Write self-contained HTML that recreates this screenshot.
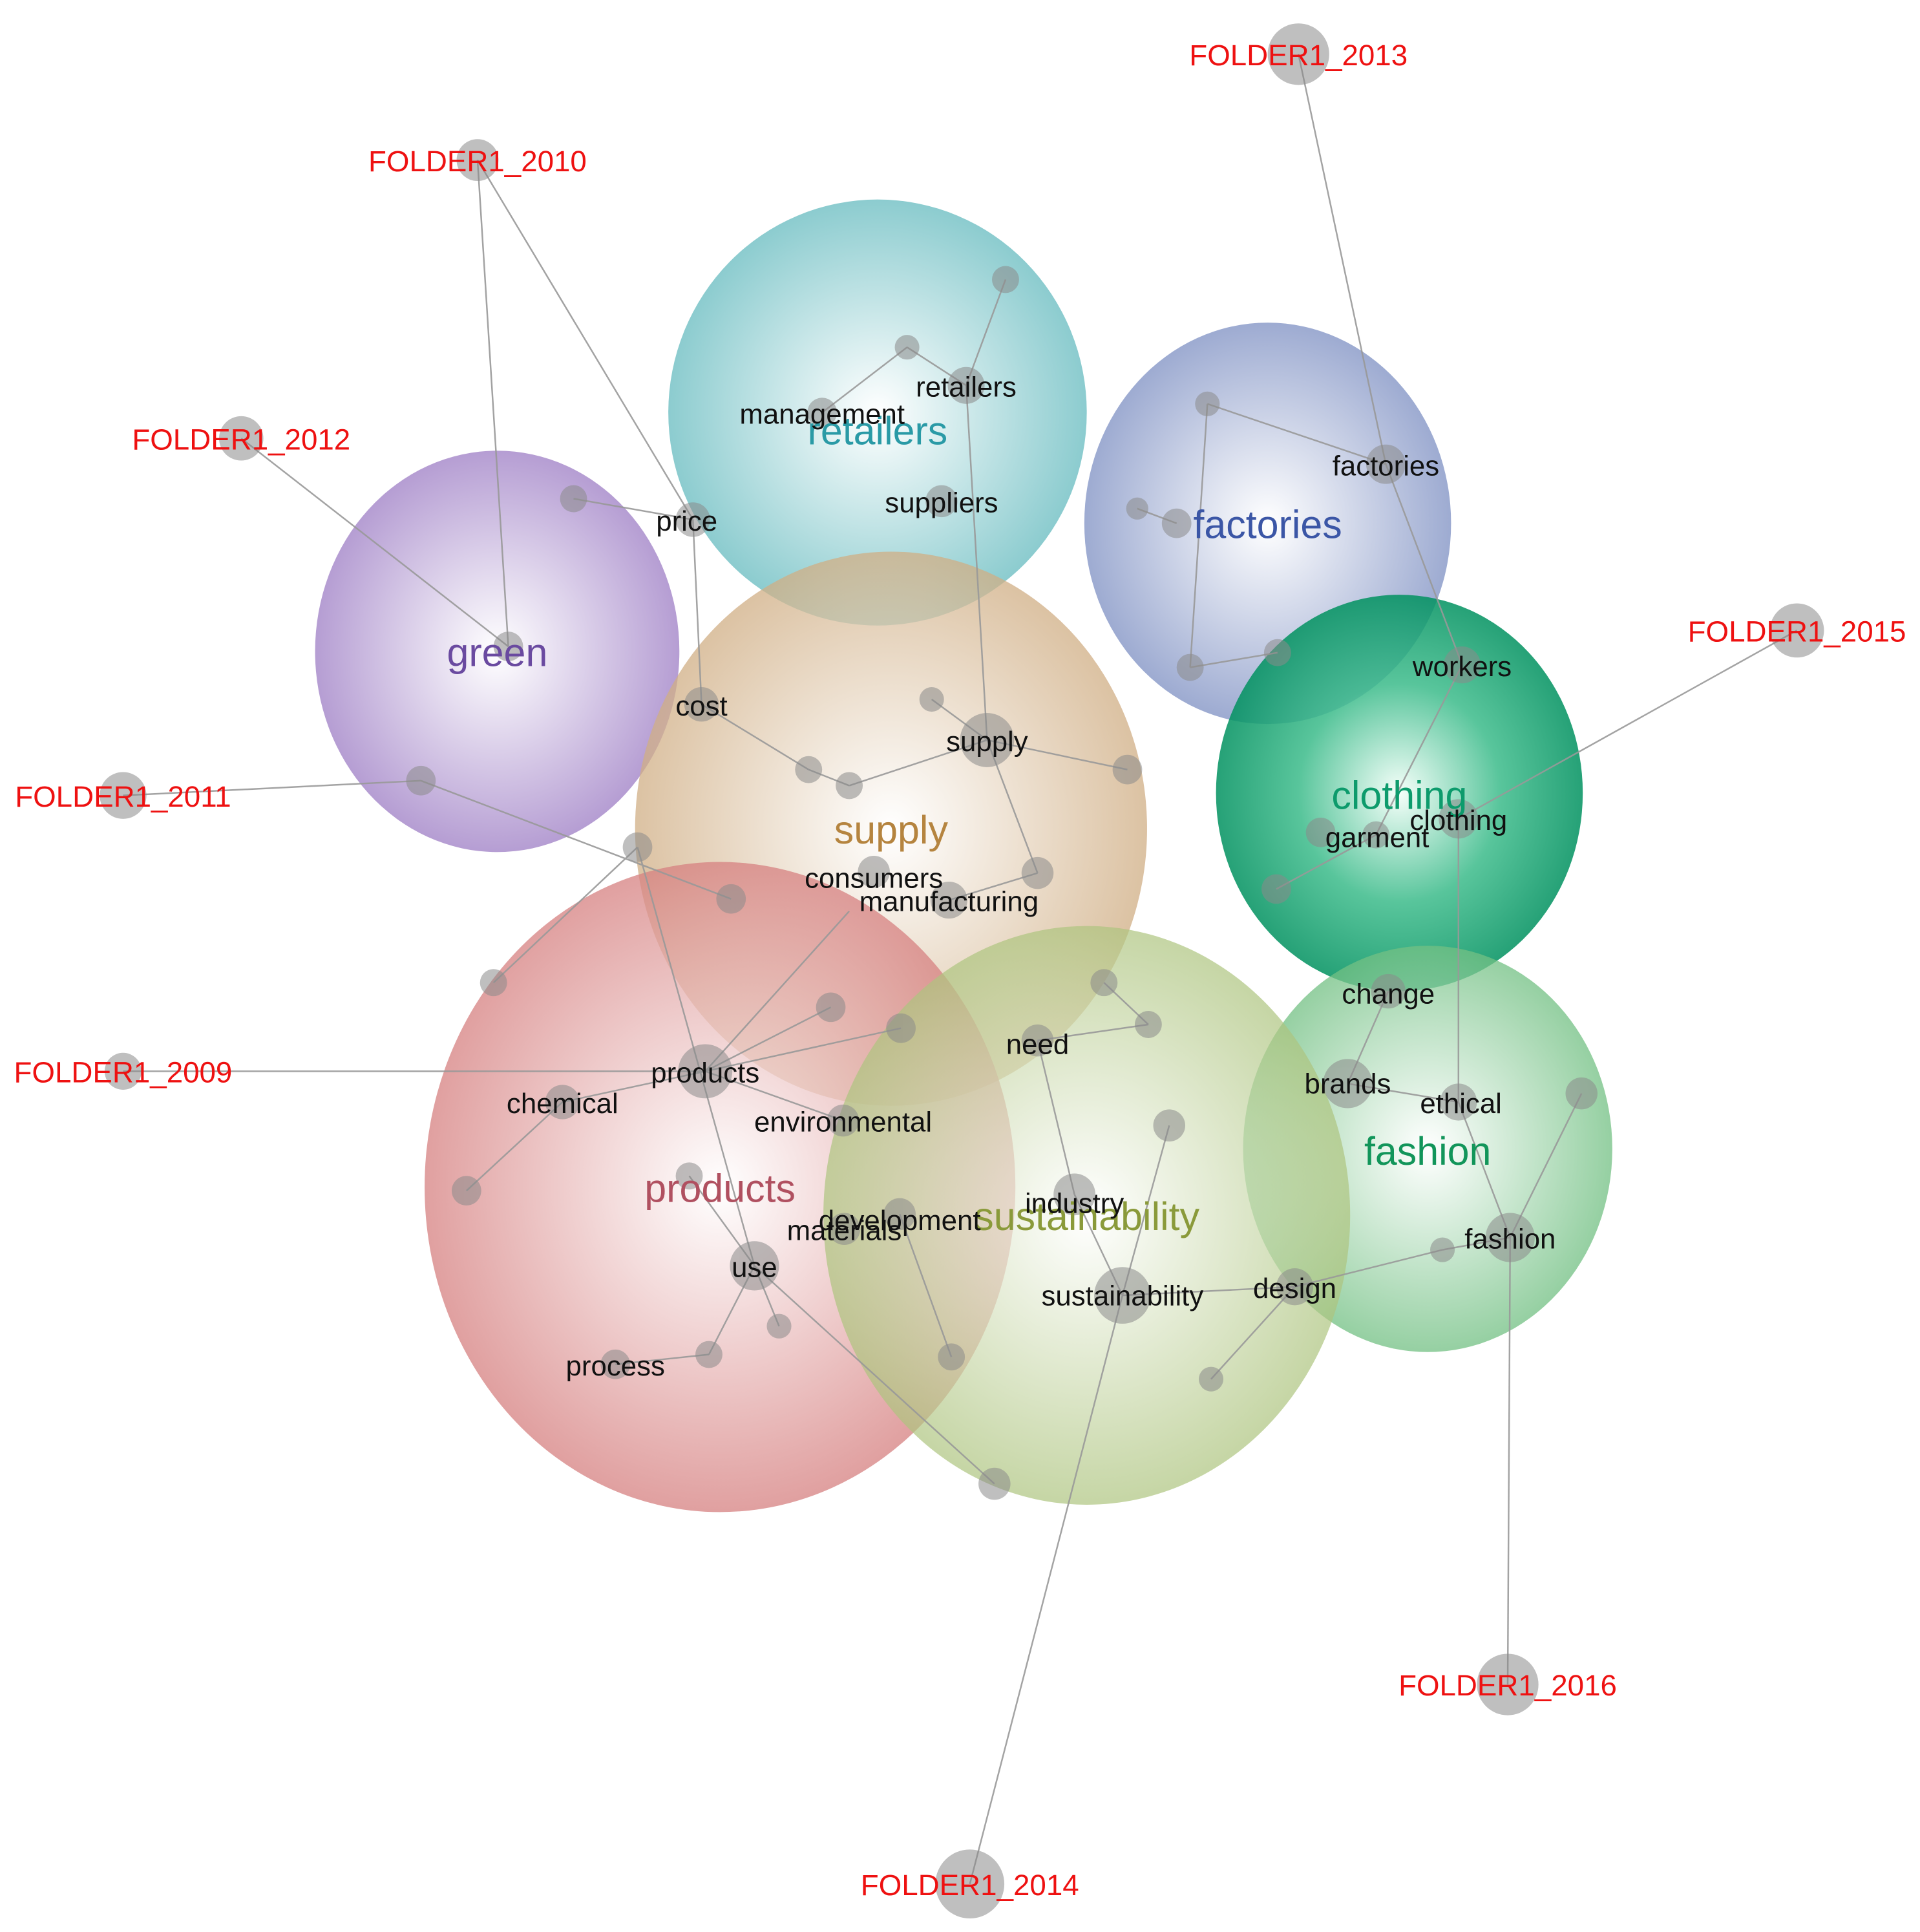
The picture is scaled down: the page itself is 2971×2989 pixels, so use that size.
<!DOCTYPE html>
<html><head><meta charset="utf-8"><style>html,body{margin:0;padding:0;background:#fff}svg{display:block}</style></head><body>
<svg width="2971" height="2989" viewBox="0 0 1560 1569" preserveAspectRatio="none" xmlns="http://www.w3.org/2000/svg" font-family="Liberation Sans, sans-serif">
<defs>
<radialGradient id="gRet"><stop offset="0" stop-color="#fff"/><stop offset="1" stop-color="#6fbfc3"/></radialGradient>
<radialGradient id="gFac"><stop offset="0" stop-color="#fff"/><stop offset="1" stop-color="#8596c6"/></radialGradient>
<radialGradient id="gGre"><stop offset="0" stop-color="#fff"/><stop offset="1" stop-color="#a385c8"/></radialGradient>
<radialGradient id="gSup"><stop offset="0" stop-color="#fff"/><stop offset="1" stop-color="#d0ae84"/></radialGradient>
<radialGradient id="gClo"><stop offset="0" stop-color="#f4fff9"/><stop offset="0.55" stop-color="#3bbb8a"/><stop offset="1" stop-color="#00915f"/></radialGradient>
<radialGradient id="gFas"><stop offset="0" stop-color="#fff"/><stop offset="1" stop-color="#72c083"/></radialGradient>
<radialGradient id="gPro"><stop offset="0" stop-color="#fff"/><stop offset="1" stop-color="#d68080"/></radialGradient>
<radialGradient id="gSus"><stop offset="0" stop-color="#fff"/><stop offset="1" stop-color="#adc47e"/></radialGradient>
</defs>
<g>
<ellipse cx="713" cy="335" rx="170" ry="173" fill="url(#gRet)" opacity="0.8"/>
<ellipse cx="1030" cy="425" rx="149" ry="163" fill="url(#gFac)" opacity="0.8"/>
<ellipse cx="404" cy="529" rx="148" ry="163" fill="url(#gGre)" opacity="0.8"/>
<ellipse cx="724" cy="673" rx="208" ry="225" fill="url(#gSup)" opacity="0.75"/>
<ellipse cx="1137" cy="644" rx="149" ry="161" fill="url(#gClo)" opacity="0.85"/>
<ellipse cx="1160" cy="933" rx="150" ry="165" fill="url(#gFas)" opacity="0.75"/>
<ellipse cx="585" cy="964" rx="240" ry="264" fill="url(#gPro)" opacity="0.75"/>
<ellipse cx="883" cy="987" rx="214" ry="235" fill="url(#gSus)" opacity="0.7"/>
</g>
<g stroke="#999" stroke-width="1.3" fill="none" opacity="0.9">
<line x1="1055" y1="44" x2="1126" y2="377"/><line x1="1126" y1="377" x2="1188" y2="540"/>
<line x1="388" y1="130" x2="413" y2="525"/><line x1="388" y1="130" x2="563" y2="422"/>
<line x1="196" y1="356" x2="413" y2="525"/>
<line x1="100" y1="646" x2="342" y2="634"/>
<line x1="100" y1="870" x2="573" y2="870"/>
<line x1="1460" y1="512" x2="1185" y2="665"/>
<line x1="1225" y1="1368" x2="1227" y2="1005"/>
<line x1="788" y1="1530" x2="912" y2="1052"/>
<line x1="668" y1="335" x2="737" y2="282"/><line x1="737" y1="282" x2="785" y2="313"/>
<line x1="817" y1="227" x2="785" y2="313"/><line x1="785" y1="313" x2="802" y2="601"/>
<line x1="802" y1="601" x2="843" y2="709"/>
<line x1="466" y1="405" x2="563" y2="422"/><line x1="563" y1="422" x2="570" y2="572"/>
<line x1="570" y1="572" x2="657" y2="625"/><line x1="657" y1="625" x2="690" y2="638"/>
<line x1="690" y1="638" x2="802" y2="601"/><line x1="802" y1="601" x2="757" y2="568"/><line x1="802" y1="601" x2="916" y2="625"/>
<line x1="342" y1="634" x2="594" y2="730"/>
<line x1="518" y1="688" x2="401" y2="798"/><line x1="518" y1="688" x2="613" y2="1028"/>
<line x1="573" y1="870" x2="690" y2="740"/><line x1="573" y1="870" x2="675" y2="818"/><line x1="573" y1="870" x2="732" y2="835"/>
<line x1="573" y1="870" x2="685" y2="910"/><line x1="573" y1="870" x2="457" y2="895"/><line x1="457" y1="895" x2="379" y2="967"/>
<line x1="843" y1="709" x2="771" y2="731"/>
<line x1="613" y1="1028" x2="576" y2="1100"/><line x1="576" y1="1100" x2="500" y2="1108"/>
<line x1="613" y1="1028" x2="633" y2="1077"/><line x1="613" y1="1028" x2="808" y2="1205"/>
<line x1="560" y1="955" x2="613" y2="1028"/>
<line x1="731" y1="986" x2="773" y2="1102"/>
<line x1="843" y1="845" x2="933" y2="832"/><line x1="933" y1="832" x2="897" y2="798"/>
<line x1="843" y1="845" x2="873" y2="970"/><line x1="873" y1="970" x2="912" y2="1052"/>
<line x1="912" y1="1052" x2="950" y2="914"/><line x1="912" y1="1052" x2="1052" y2="1045"/>
<line x1="1052" y1="1045" x2="984" y2="1120"/><line x1="1052" y1="1045" x2="1172" y2="1015"/>
<line x1="1172" y1="1015" x2="1227" y2="1005"/>
<line x1="981" y1="328" x2="1126" y2="377"/><line x1="981" y1="328" x2="967" y2="542"/>
<line x1="967" y1="542" x2="1038" y2="530"/><line x1="924" y1="413" x2="956" y2="425"/>
<line x1="1188" y1="540" x2="1118" y2="678"/><line x1="1185" y1="665" x2="1185" y2="895"/>
<line x1="1118" y1="678" x2="1037" y2="722"/>
<line x1="1128" y1="805" x2="1095" y2="880"/><line x1="1095" y1="880" x2="1185" y2="895"/>
<line x1="1185" y1="895" x2="1227" y2="1005"/><line x1="1227" y1="1005" x2="1285" y2="888"/>
</g>
<g fill="#8a8a8a" opacity="0.55">
<circle cx="1055" cy="44" r="25"/><circle cx="388" cy="130" r="17"/><circle cx="196" cy="356" r="18"/>
<circle cx="100" cy="646" r="19"/><circle cx="100" cy="870" r="15"/><circle cx="1460" cy="512" r="22"/>
<circle cx="1225" cy="1368" r="25"/><circle cx="788" cy="1530" r="28"/>
<circle cx="668" cy="335" r="12"/><circle cx="737" cy="282" r="10"/><circle cx="785" cy="313" r="15"/>
<circle cx="817" cy="227" r="11"/><circle cx="765" cy="407" r="13"/><circle cx="563" cy="422" r="14"/>
<circle cx="466" cy="405" r="11"/><circle cx="413" cy="525" r="12"/><circle cx="570" cy="572" r="14"/>
<circle cx="657" cy="625" r="11"/><circle cx="690" cy="638" r="11"/><circle cx="802" cy="601" r="22"/>
<circle cx="757" cy="568" r="10"/><circle cx="916" cy="625" r="12"/><circle cx="843" cy="709" r="13"/>
<circle cx="710" cy="708" r="13"/><circle cx="771" cy="731" r="15"/><circle cx="342" cy="634" r="12"/>
<circle cx="518" cy="688" r="12"/><circle cx="594" cy="730" r="12"/><circle cx="401" cy="798" r="11"/>
<circle cx="675" cy="818" r="12"/><circle cx="732" cy="835" r="12"/><circle cx="573" cy="870" r="22"/>
<circle cx="457" cy="895" r="14"/><circle cx="379" cy="967" r="12"/><circle cx="685" cy="910" r="13"/>
<circle cx="560" cy="955" r="11"/><circle cx="613" cy="1028" r="20"/><circle cx="633" cy="1077" r="10"/>
<circle cx="576" cy="1100" r="11"/><circle cx="500" cy="1108" r="12"/><circle cx="686" cy="998" r="13"/>
<circle cx="731" cy="986" r="13"/><circle cx="773" cy="1102" r="11"/><circle cx="808" cy="1205" r="13"/>
<circle cx="843" cy="845" r="13"/><circle cx="897" cy="798" r="11"/><circle cx="933" cy="832" r="11"/>
<circle cx="950" cy="914" r="13"/><circle cx="873" cy="970" r="17"/><circle cx="912" cy="1052" r="23"/>
<circle cx="1052" cy="1045" r="15"/><circle cx="984" cy="1120" r="10"/><circle cx="1126" cy="377" r="16"/>
<circle cx="981" cy="328" r="10"/><circle cx="924" cy="413" r="9"/><circle cx="956" cy="425" r="12"/>
<circle cx="967" cy="542" r="11"/><circle cx="1038" cy="530" r="11"/><circle cx="1188" cy="540" r="15"/>
<circle cx="1185" cy="665" r="16"/><circle cx="1073" cy="676" r="12"/><circle cx="1118" cy="678" r="11"/>
<circle cx="1037" cy="722" r="12"/><circle cx="1128" cy="805" r="14"/><circle cx="1095" cy="880" r="20"/>
<circle cx="1185" cy="895" r="15"/><circle cx="1227" cy="1005" r="20"/><circle cx="1172" cy="1015" r="10"/>
<circle cx="1285" cy="888" r="13"/>
</g>
<g font-size="32" text-anchor="middle">
<text x="713" y="361" fill="#2a9aa6">retailers</text>
<text x="1030" y="437" fill="#3b56a6">factories</text>
<text x="404" y="541" fill="#6a4aa0">green</text>
<text x="724" y="685" fill="#b5843f">supply</text>
<text x="1137" y="657" fill="#0d9b6c">clothing</text>
<text x="1160" y="946" fill="#12955a">fashion</text>
<text x="585" y="976" fill="#b05060">products</text>
<text x="883" y="999" fill="#8a9a3a">sustainability</text>
</g>
<g font-size="23" text-anchor="middle" fill="#111">
<text x="668" y="344">management</text><text x="785" y="322">retailers</text><text x="765" y="416">suppliers</text>
<text x="558" y="431">price</text><text x="570" y="581">cost</text><text x="802" y="610">supply</text>
<text x="710" y="721">consumers</text><text x="771" y="740">manufacturing</text>
<text x="573" y="879">products</text><text x="457" y="904">chemical</text><text x="685" y="919">environmental</text>
<text x="613" y="1037">use</text><text x="500" y="1117">process</text><text x="686" y="1007">materials</text>
<text x="731" y="999">development</text><text x="843" y="856">need</text><text x="873" y="985">industry</text>
<text x="912" y="1060">sustainability</text><text x="1052" y="1054">design</text>
<text x="1126" y="386">factories</text><text x="1188" y="549">workers</text><text x="1185" y="674">clothing</text>
<text x="1119" y="688">garment</text><text x="1128" y="815">change</text><text x="1095" y="888">brands</text>
<text x="1187" y="904">ethical</text><text x="1227" y="1014">fashion</text>
</g>
<g font-size="24" fill="#ee1111" text-anchor="middle">
<text x="1055" y="53">FOLDER1_2013</text><text x="388" y="139">FOLDER1_2010</text>
<text x="196" y="365">FOLDER1_2012</text><text x="100" y="655">FOLDER1_2011</text>
<text x="100" y="879">FOLDER1_2009</text><text x="1460" y="521">FOLDER1_2015</text>
<text x="1225" y="1377">FOLDER1_2016</text><text x="788" y="1539">FOLDER1_2014</text>
</g>
</svg>
</body></html>
